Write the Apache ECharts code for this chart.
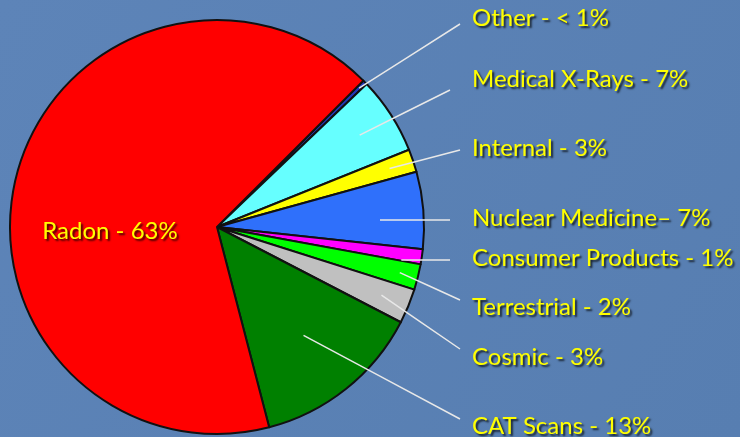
<!DOCTYPE html>
<html>
<head>
<meta charset="utf-8">
<script src="https://cdn.jsdelivr.net/npm/echarts@6/dist/echarts.min.js"></script>
<style>
  html, body { margin: 0; padding: 0; }
  #chart { width: 740px; height: 437px; }
</style>
</head>
<body>
<div id="chart"></div>
<script>
// slices go clockwise from the Radon / Other edge
var names = ["Other", "Medical X-Rays", "Internal", "Nuclear Medicine", "Consumer Products",
  "Terrestrial", "Cosmic", "CAT Scans", "Radon"];
var labels = ["Other - < 1%", "Medical X-Rays - 7%", "Internal - 3%", "Nuclear Medicine– 7%",
  "Consumer Products - 1%", "Terrestrial - 2%", "Cosmic - 3%", "CAT Scans - 13%", "Radon - 63%"];
// slice sizes as drawn (degrees of the circle)
var values = [1.3, 21.8, 6.4, 21.7, 4.2, 7.2, 9.8, 48, 239.6];
var colors = ["#2236b8", "#66ffff", "#ffff00", "#2f70fb", "#ff00ff", "#00ff00", "#c0c0c0", "#008000", "#ff0000"];

// label layout (right hand column)
var labelY = [18, 79, 148, 218, 258, 307, 357, 426];
var lineEnd = [[460, 24], [450, 90], [460, 150], [450, 220], [450, 260], [460, 300], [460, 349], [460, 419]];
var lineStart = [0.96, 0.82, 0.88, 0.79, 0.9, 0.91, 0.86, 0.67];
var lineFlat = [false, false, false, true, true, false, false, false];

var cx = 217, cy = 227;

var chart = echarts.init(document.getElementById("chart"));

var data = [];
var labelData = [];
for (var i = 0; i < names.length; i++) {
  data.push({ name: names[i], value: values[i], itemStyle: { color: colors[i] } });
  var item = { name: names[i], value: values[i] };
  if (names[i] == "Radon") {
    item.label = { position: "inside" };
    item.labelLine = { show: false };
  }
  labelData.push(item);
}

function sliceMid(i) {
  // mid angle of a slice, taken from the pie layout of the library
  var lay = chart.getModel().getSeriesByIndex(1).getData().getItemLayout(i);
  return { a: (lay.startAngle + lay.endAngle) / 2, cx: lay.cx, cy: lay.cy, r: lay.r };
}

chart.setOption({
  backgroundColor: {
    type: "linear", x: 0, y: 0, x2: 1, y2: 1,
    colorStops: [
      { offset: 0, color: "#5d84b8" },
      { offset: 1, color: "#577eb1" }
    ]
  },
  animation: false,
  series: [
    {
      type: "pie",
      center: [cx, cy],
      radius: 207,
      startAngle: 45,
      clockwise: true,
      data: data,
      itemStyle: {
        borderColor: "#111",
        borderWidth: 2
      },
      label: { show: false },
      labelLine: { show: false }
    },
    {
      // same pie again, see-through, only to draw labels and leader lines on top
      type: "pie",
      z: 5,
      silent: true,
      center: [cx, cy],
      radius: 207,
      startAngle: 45,
      clockwise: true,
      avoidLabelOverlap: false,
      data: labelData,
      itemStyle: {
        color: "rgba(0,0,0,0)",
        borderWidth: 0
      },
      label: {
        show: true,
        formatter: function (p) {
          return labels[p.dataIndex];
        },
        color: "#ffff00",
        fontFamily: "Lato",
        fontSize: 24,
        textShadowColor: "rgba(0,0,0,0.75)",
        textShadowBlur: 2,
        textShadowOffsetX: 2,
        textShadowOffsetY: 2
      },
      labelLine: {
        show: true,
        lineStyle: {
          color: "#e8e8e8",
          width: 1.5
        }
      },
      labelLayout: function (params) {
        var i = params.dataIndex;
        if (names[i] == "Radon") {
          return { x: 110, y: 231, align: "center", verticalAlign: "middle" };
        }
        var m = sliceMid(i);
        var k = lineStart[i];
        var e = lineEnd[i];
        var s = [m.cx + m.r * k * Math.cos(m.a), m.cy + m.r * k * Math.sin(m.a)];
        if (lineFlat[i]) {
          s[1] = e[1];
        }
        var mid = [(s[0] + e[0]) / 2, (s[1] + e[1]) / 2];
        return {
          x: 472,
          y: labelY[i],
          align: "left",
          verticalAlign: "middle",
          labelLinePoints: [s, mid, e]
        };
      }
    }
  ]
});
</script>
</body>
</html>
